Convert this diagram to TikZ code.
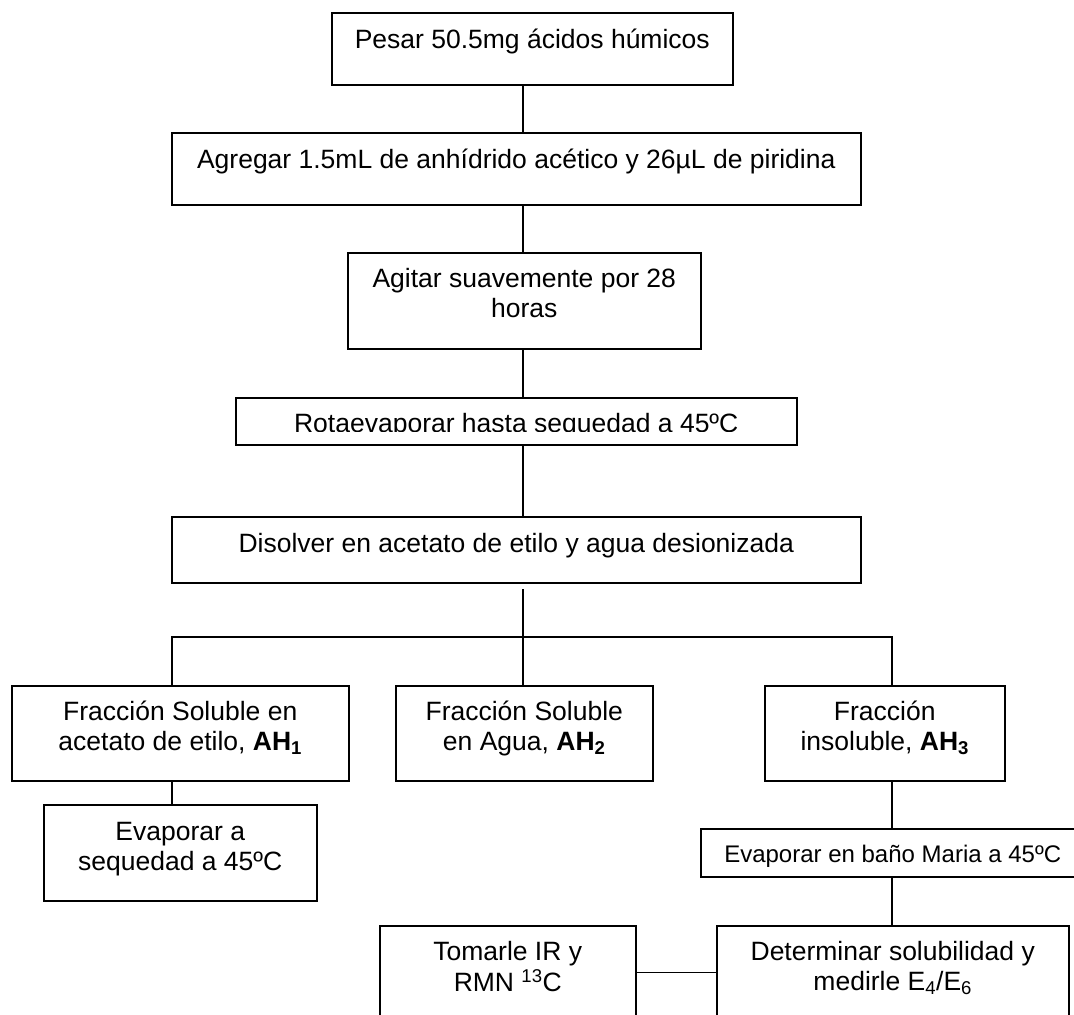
\documentclass[tikz,border=0pt]{standalone}
\usepackage{fontspec}
\setmainfont{Liberation Sans}
\usetikzlibrary{calc}
% two-line label, baseline on the first line
\newcommand{\stk}[1]{\begin{tabular}[t]{@{}c@{}}#1\end{tabular}}
\begin{document}
\begin{tikzpicture}[x=1pt,y=-1pt,
  box/.style={draw=black, line width=1.5pt, rectangle, inner sep=0pt, anchor=north west},
  lbl/.style={inner sep=0pt, anchor=base, font=\fontsize{26.5}{30.5}\selectfont},
  lblsmall/.style={inner sep=0pt, anchor=base, font=\fontsize{24}{28}\selectfont},
  link/.style={draw=black, line width=1.5pt}]

\useasboundingbox (0,0) rectangle (1074,1015);
\clip (0,0) rectangle (1074,1015);
\fill[white] (0,0) rectangle (1074,1015);

% boxes
\node[box, minimum width=401pt, minimum height=72pt]  (b1) at (331,12)  {};
\node[box, minimum width=689pt, minimum height=72pt]  (b2) at (171,132) {};
\node[box, minimum width=353pt, minimum height=96pt]  (b3) at (347,252) {};
\node[box, minimum width=561pt, minimum height=47pt]  (b4) at (235,397) {};
\node[box, minimum width=689pt, minimum height=66pt]  (b5) at (171,516) {};
\node[box, minimum width=337pt, minimum height=95pt]  (f1) at (11,685)  {};
\node[box, minimum width=257pt, minimum height=95pt]  (f2) at (395,685) {};
\node[box, minimum width=240pt, minimum height=95pt]  (f3) at (764,685) {};
\node[box, minimum width=273pt, minimum height=96pt]  (e1) at (43,804)  {};
\node[box, minimum width=384pt, minimum height=48pt]  (e2) at (700,828) {};
\node[box, minimum width=256pt, minimum height=120pt] (t1) at (379,925) {};
\node[box, minimum width=352pt, minimum height=120pt] (d1) at (716,925) {};

% connector guides
\coordinate (spine) at (523,0);
\coordinate (gap) at (523,589);
\coordinate (fork) at (523,637);
\coordinate (leftdrop) at (172,0);
\coordinate (rightdrop) at (892,0);
\coordinate (rowline) at (0,972.5);

% connectors
\draw[link] (b1.south -| spine) -- (b2.north -| spine);
\draw[link] (b2.south -| spine) -- (b3.north -| spine);
\draw[link] (b3.south -| spine) -- (b4.north -| spine);
\draw[link] (b4.south -| spine) -- (b5.north -| spine);
\draw[link] (gap) -- (fork);
\draw[link] (f1.north -| leftdrop) |- (fork) -| (f3.north -| rightdrop);
\draw[link] (fork) -- (f2.north -| spine);
\draw[link] (f1.south -| leftdrop) -- (e1.north -| leftdrop);
\draw[link] (f3.south -| rightdrop) -- (e2.north -| rightdrop);
\draw[link] (e2.south -| rightdrop) -- (d1.north -| rightdrop);
\draw[link] (t1.east |- rowline) -- (d1.west |- rowline);

% labels
\node[lbl] (b1t) at ($(b1.north)+(0,36)$) {Pesar 50.5mg ácidos húmicos};
\node[lbl] (b2t) at ($(b2.north)+(0,36)$) {Agregar 1.5mL de anhídrido acético y 26µL de piridina};
\node[lbl] (b3t) at ($(b3.north)+(0,35)$) {\stk{Agitar suavemente por 28\\horas}};
\begin{scope}
  \clip (b4.north west) rectangle ($(b4.east)+(0,10)$);
  \node[lbl] (b4t) at ($(b4.north)+(0,35.5)$) {Rotaevaporar hasta sequedad a 45ºC};
\end{scope}
\node[lbl] (b5t) at ($(b5.north)+(0,36.5)$) {Disolver en acetato de etilo y agua desionizada};
\node[lbl] (f1t) at ($(f1.north)+(0,35)$) {\stk{Fracción Soluble en\\acetato de etilo, \textbf{AH\textsubscript{1}}}};
\node[lbl] (f2t) at ($(f2.north)+(0,35)$) {\stk{Fracción Soluble\\en Agua, \textbf{AH\textsubscript{2}}}};
\node[lbl] (f3t) at ($(f3.north)+(0,35)$) {\stk{Fracción\\insoluble, \textbf{AH\textsubscript{3}}}};
\node[lbl] (e1t) at ($(e1.north)+(0,36)$) {\stk{Evaporar a\\sequedad a 45ºC}};
\node[lblsmall] (e2t) at ($(e2.north)+(0,34)$) {Evaporar en baño Maria a 45ºC};
\node[lbl] (t1t) at ($(t1.north)+(0,35)$) {\stk{Tomarle IR y\\RMN \textsuperscript{13}C}};
\node[lbl] (d1t) at ($(d1.north)+(0,35)$) {\stk{Determinar solubilidad y\\medirle E\textsubscript{4}/E\textsubscript{6}}};
\end{tikzpicture}
\end{document}
